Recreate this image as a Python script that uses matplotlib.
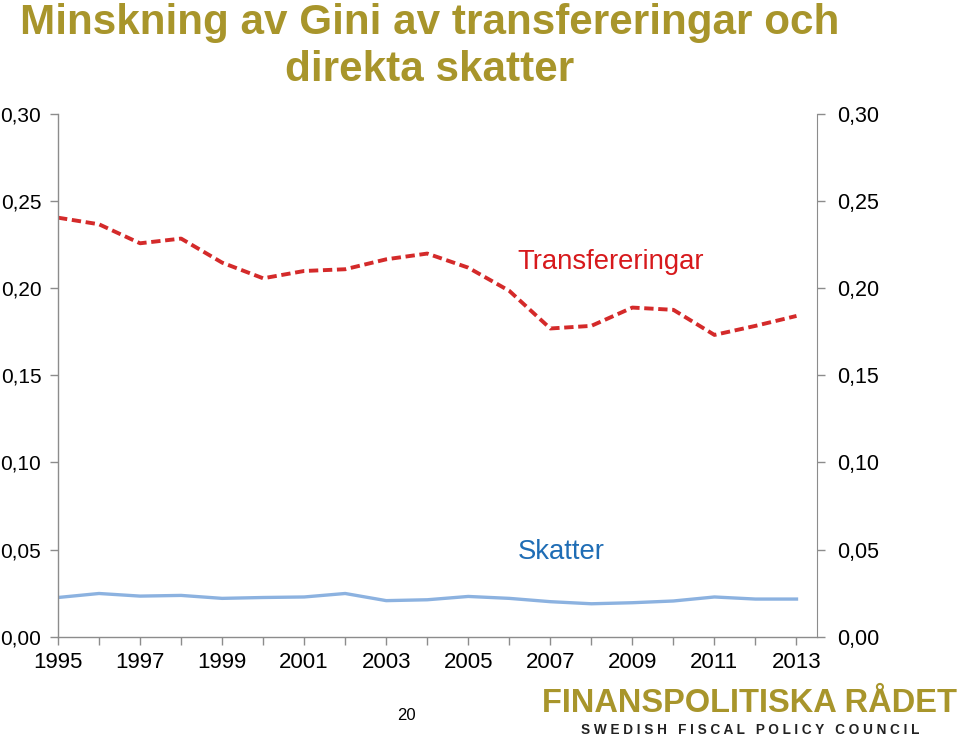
import matplotlib
matplotlib.use("Agg")
import matplotlib.pyplot as plt
from matplotlib.ticker import FuncFormatter, MultipleLocator

years = list(range(1995, 2014))
transfereringar = [0.2405, 0.2367, 0.2258, 0.2285, 0.2147, 0.2057, 0.2099, 0.2109,
                   0.2166, 0.2199, 0.2118, 0.1985, 0.1769, 0.1784, 0.1889, 0.1876,
                   0.1732, 0.1784, 0.1841]
skatter = [0.0225, 0.0248, 0.0233, 0.0237, 0.0220, 0.0225, 0.0228, 0.0248,
           0.0207, 0.0212, 0.0231, 0.0220, 0.0201, 0.0189, 0.0195, 0.0205,
           0.0228, 0.0216, 0.0216]
label_years = list(range(1995, 2014, 2))
title = "Minskning av Gini av transfereringar och\ndirekta skatter"

plt.rcParams['font.family'] = ['Liberation Sans', 'DejaVu Sans']
GOLD = "#A8952B"
SPINE = "#8C8C8C"

fig = plt.figure(figsize=(9.6, 7.37), dpi=100)
ax = fig.add_axes([58/960, 1-636.7/737, (817-58)/960, (636.7-114)/737])

ax.plot(years, transfereringar, color="#D42A2A", lw=2.8, ls=(0, (2.4, 1.2)), dash_capstyle='butt')
ax.plot(years, skatter, color="#8CB2E0", lw=2.4)

ax.set_xlim(1995, 2013.5)
ax.set_ylim(0, 0.30)
ax.yaxis.set_major_locator(MultipleLocator(0.05))
fmt = FuncFormatter(lambda v, p: f"{v:.2f}".replace(".", ","))
ax.yaxis.set_major_formatter(fmt)
ax.set_xticks(years)
ax.set_xticklabels([str(y) if y in label_years else "" for y in years])

for s in ["top", "right"]:
    ax.spines[s].set_visible(False)
for s in ["left", "bottom"]:
    ax.spines[s].set_color(SPINE)
    ax.spines[s].set_linewidth(1.0)
ax.tick_params(axis='both', direction='out', length=6, width=1, color=SPINE, labelcolor='black')
ax.tick_params(axis='x', pad=5, labelsize=16)
ax.tick_params(axis='y', pad=6, labelsize=15)

ax2 = ax.twinx()
ax2.set_ylim(0, 0.30)
ax2.yaxis.set_major_locator(MultipleLocator(0.05))
ax2.yaxis.set_major_formatter(fmt)
for s in ["top", "left", "bottom"]:
    ax2.spines[s].set_visible(False)
ax2.spines["right"].set_color(SPINE)
ax2.tick_params(axis='y', direction='out', length=6, width=1, color=SPINE, labelsize=15.5, pad=8.5)

ax.text(2006.2, 0.215, "Transfereringar", color="#D7191C", fontsize=19.8, ha='left', va='center')
ax.text(2006.2, 0.0486, "Skatter", color="#1F6DB5", fontsize=19.8, ha='left', va='center')

fig.text(430/960, 1-3/737, title, color=GOLD, fontsize=30.4, fontweight='bold',
         ha='center', va='top', linespacing=1.22)

fig.text(406/960, 1-716/737, "20", fontsize=12, ha='center', va='center', color='black')
fig.text(750/960, 1-703/737, "FINANSPOLITISKA RÅDET", color=GOLD, fontsize=23.5,
         fontweight='bold', ha='center', va='center')
fig.text(750/960, 1-730/737, "S W E D I S H   F I S C A L   P O L I C Y   C O U N C I L",
         color="#222222", fontsize=9.8, fontweight='bold', ha='center', va='center')

fig.savefig("out.png", dpi=100)
